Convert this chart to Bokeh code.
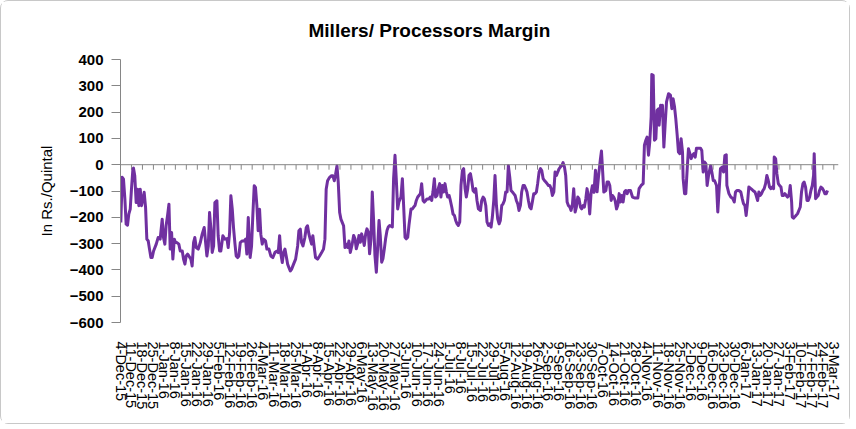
import pandas as pd
from bokeh.plotting import figure
from bokeh.models import Range1d, FixedTicker, Span
from bokeh.embed import file_html
from bokeh.resources import INLINE

# ---------------- data ----------------
start_date = "2015-12-04"
end_date = "2017-03-03"

# days since 4-Dec-15
day_offset = [
    0.2, 1.1, 1.9, 2.8, 3.6, 4.5, 5.3, 6.2, 7.0, 7.9, 8.3, 9.1, 10.0, 10.9, 11.7, 12.6, 13.4, 14.3, 15.1, 16.0,
    16.8, 17.7, 18.5, 19.4, 20.2, 21.1, 22.8, 24.0, 25.3, 26.6, 27.4, 28.3, 29.1, 30.0, 30.9, 31.7, 32.6, 33.4,
    34.3, 35.1, 36.0, 37.2, 38.1, 39.4, 40.2, 41.1, 41.9, 42.8, 43.6, 44.9, 45.7, 46.6, 47.4, 48.3, 49.6, 50.9,
    52.1, 53.4, 54.3, 55.1, 56.0, 56.8, 57.7, 58.5, 59.4, 60.2, 61.5, 62.3, 63.2, 64.0, 65.3, 66.6, 67.9, 68.7,
    69.6, 70.4, 71.3,
    72.1, 73.0, 73.8, 74.7, 75.5, 76.4, 77.6, 78.9, 79.8, 80.6, 81.5, 82.7, 83.6, 84.4, 85.3, 86.1, 87.0, 87.8,
    88.7, 89.5, 90.4, 91.2, 92.5, 93.4, 94.7, 95.9, 97.2, 98.5, 99.8, 100.6, 101.5, 102.3, 103.2, 104.0, 104.9,
    105.7, 106.6, 107.4, 108.3, 109.1, 110.4, 111.7, 113.0, 113.8, 114.7, 115.5, 116.4, 117.6, 118.5, 119.3,
    120.2, 121.0, 121.9, 122.7, 123.6, 124.4, 125.7, 127.0, 128.3, 129.5, 130.4, 131.2, 132.1, 133.4, 134.6,
    135.5, 136.4, 137.2, 138.1, 138.9, 139.8, 140.6, 141.5, 142.3, 143.2, 144.0, 144.9, 145.7, 146.6, 147.8,
    148.7, 149.6, 150.4, 151.3, 152.1, 153.0, 153.8, 154.7, 155.5, 156.4, 157.2, 158.1, 158.9, 159.8, 160.6,
    161.5, 162.3, 163.2, 164.0, 164.9, 165.7, 166.6, 167.4, 168.3, 169.1, 170.0, 170.8, 171.7, 173.4, 174.2,
    175.1, 175.9, 176.8, 177.6, 178.9, 179.8, 180.6, 181.5, 182.3, 183.2, 184.0, 185.3, 186.2, 187.0, 187.9,
    188.7, 189.6, 190.4, 191.3, 192.1, 193.0, 193.8, 194.7, 195.5, 196.8, 197.6, 198.5, 199.3, 200.2, 201.0,
    201.9, 202.7, 203.6, 204.4, 205.3, 206.1, 207.0, 207.9, 208.7, 209.6, 210.4, 211.3, 212.1, 213.0, 213.8,
    214.7, 215.5, 216.4, 217.2, 218.1, 218.9, 219.8, 220.6, 221.5, 222.3, 223.2, 224.0, 224.9,
    225.7, 226.6, 227.4, 228.3, 229.6, 230.4, 231.3, 232.1, 233.0, 233.8, 234.7, 235.5, 236.4, 237.2, 238.1,
    238.9, 239.8, 240.6, 241.5, 242.3, 243.2, 244.0, 244.9, 245.7, 246.6, 247.4, 248.3, 249.1, 250.0, 250.8,
    251.7, 252.5, 253.4, 254.2, 255.1, 255.9, 256.8, 257.6, 258.5, 259.3, 260.2, 261.0, 261.9, 262.7, 263.6,
    264.4, 265.3, 266.1, 267.0, 267.9, 268.7, 269.6, 270.4, 271.3, 272.1, 273.0, 273.8, 274.7, 275.5, 276.4,
    277.2, 278.1, 278.9, 279.8, 280.6, 281.5, 282.3, 283.2, 284.0, 284.9, 285.7, 286.6, 287.4, 288.3, 289.1,
    290.0, 290.8, 291.7, 292.5, 293.4, 294.2, 295.1, 295.9, 296.8, 297.6, 298.5, 299.3,
    300.2, 301.0, 302.0, 303.0, 304.0, 305.0, 306.1, 306.8, 307.6, 308.3,
    309.6, 310.4, 311.3, 312.1, 313.0, 313.8, 314.7, 315.5, 316.4, 317.2, 318.1, 318.9, 319.8, 320.6, 321.5,
    322.3, 323.2, 324.0, 325.3, 326.6, 328.3, 330.0, 330.8, 332.1, 333.4, 334.2, 335.1, 335.9, 336.8, 337.6,
    338.5, 338.9, 339.8, 340.6, 341.5, 342.3, 343.2, 343.6, 344.5, 345.3, 345.7, 346.6, 347.4, 348.3, 349.6,
    350.8, 351.7, 352.5, 353.4, 354.2, 355.1, 355.9, 356.8, 357.6, 358.5, 358.9, 359.8, 360.6, 361.5, 362.3,
    363.2, 364.0, 364.9, 365.7, 366.6, 367.4, 368.7, 370.0, 370.8, 371.7, 372.6, 373.4, 374.2, 375.1, 376.4,
    377.2, 378.1, 378.9, 380.2, 381.0,
    382.7, 383.8, 384.7, 385.5, 386.4, 386.8, 388.1, 389.3, 390.6, 391.5, 392.3, 393.2, 394.4, 395.7, 396.6,
    397.4, 398.3, 399.1, 400.0, 400.8, 402.1, 403.4, 404.7, 405.5, 406.4, 407.2, 408.1, 408.9, 409.8, 410.6,
    411.5, 412.3, 413.2, 414.0, 414.9, 415.7, 416.6, 417.0, 417.9, 418.7, 419.6, 420.4, 421.3, 422.1, 423.0,
    423.8, 424.7, 425.5, 426.4, 427.2, 428.1, 428.5, 429.3, 430.6, 431.9, 432.7, 433.6, 434.4, 435.3, 436.1,
    437.0, 437.9, 438.7, 439.6, 440.4, 441.3, 442.1, 442.5, 443.4, 444.2, 445.1, 445.9, 446.8, 447.6, 448.5,
    449.3, 450.2, 451.0,
]

# Rs./Quintal
margin = [
    -220, -48, -55, -131, -226, -230, -188, -169, -93, -17, -13, -42, -144, -93, -156, -93, -156, -131, -105, -163,
    -283, -290, -321, -353, -353, -328, -302, -277, -283, -207, -277, -302, -232, -194, -150, -321, -258, -359,
    -283, -296, -296, -302, -328, -328, -359, -378, -347, -340, -347, -359, -385, -296, -277, -315, -321, -296,
    -264, -239, -296, -347, -309, -182, -245, -334, -309, -144, -137, -270, -328, -328, -270, -283, -281, -315,
    -258, -118, -169,
    -240, -300, -347, -353, -347, -296, -290, -290, -283, -340, -201, -353, -309, -194, -80, -86, -156, -251,
    -169, -264, -302, -283, -290, -321, -321, -347, -353, -334, -328, -334, -270, -340, -372, -334, -321,
    -347, -378, -391, -404, -398, -378, -359, -309, -251, -245, -296, -309, -277, -239, -232,
    -264, -283, -302, -270, -315, -353, -359, -347, -334, -321, -283, -93, -61, -48, -42,
    -42, -61, -36, -4, -67, -182, -207, -220, -232, -315, -302, -315, -290, -334, -302,
    -269, -282, -320, -300, -269, -295, -263, -282, -307, -263, -244, -256, -339, -282, -104,
    -218, -345, -409, -320, -212, -269, -371, -358, -320, -282, -250, -237, -231, -237, -53,
    36, -53, -168, -142, -123, -53, -155, -276, -282, -276, -231, -168, -168, -161, -155,
    -136, -123, -117, -110, -72, -136, -142, -136, -130, -130, -123, -136, -104, -53, -123,
    -117, -91, -72, -123, -79, -104, -72, -104, -123, -117, -136, -161, -187, -193, -212,
    -225, -231, -218, -79, -22, -15, -91, -123, -91, -41, -34, -60, -98,
    -104, -91, -136, -168, -174, -136, -123, -130, -155, -218, -231, -225, -237, -199, -136,
    -41, -155, -206, -225, -212, -155, -149, -136, -104, -104, -3, -47, -98, -104, -110,
    -117, -136, -149, -174, -155, -104, -79, -79, -91, -104, -136, -161, -168, -142, -110,
    -110, -104, -72, -28, -15, -22, -53, -60, -66, -72, -79, -79, -91, -117, -104,
    -28, -41, -28, -15, -9, -3, 8, -9, -41, -142, -155, -161, -174, -149, -91,
    -180, -161, -123, -130, -161, -168, -155, -161, -130, -91, -123, -187,
    -105, -80, -105, -21, -103, -40, 20, 52, -30, -104,
    -98, -66, -66, -79, -136, -117, -124, -136, -168, -155, -110, -142, -117, -142, -104,
    -98, -110, -98, -98, -123, -127, -127, -91, -79, -72, 74, 93, 105, 36, 86,
    182, 343, 340, 93, 99, 207, 212, 150, 226, 188, 226, 67, 150, 239, 270,
    264, 213, 251, 220, 175, 112, 48, 42, 99, 48, -53, -110, -110, -15, 61,
    42, 23, 36, 42, 29, 63, 63, 63, 54, -28, 10, 4, -79, -41, -3,
    -28, -60, -60, -79, -180,
    -15, -9, -28, 35, 38, -79, -110, -123, -129, -142, -104, -98, -98, -104, -129,
    -148, -155, -193, -142, -85, -91, -98, -104, -117, -136, -104, -117, -110, -98, -91,
    -72, -41, -60, -85, -91, -85, -91, 29, 23, -34, -72, -79, -85, -117, -117,
    -110, -117, -123, -117, -79, -142, -199, -203, -195, -186, -174, -161, -104, -72, -66,
    -85, -136, -136, -123, -98, -79, -41, 42, -129, -123, -117, -98, -85, -89, -98,
    -110, -110, -98,
]

y_ticks = [-600, -500, -400, -300, -200, -100, 0, 100, 200, 300, 400]

# weekly category labels
start = pd.Timestamp(start_date)
tick_dates = pd.date_range(start_date, end_date, freq="7D")
tick_days = [int((d - start).days) for d in tick_dates]
tick_labels = [f"{d.day}-{d.strftime('%b-%y')}" for d in tick_dates]

FONT = "Liberation Sans"
GREY = "#868686"

p = figure(
    frame_width=718, frame_height=263,
    x_range=Range1d(0, 458), y_range=Range1d(-600, 400),
    output_backend="svg", toolbar_location=None,
    title="Millers/ Processors Margin",
    min_border_left=119, min_border_right=11, min_border_top=58, min_border_bottom=101,
)
p.outline_line_color = None
p.grid.grid_line_color = None
p.background_fill_color = "white"
p.border_fill_color = "white"

p.title.align = "left"
p.title.offset = 188
p.title.vertical_align = "top"
p.title.standoff = 34
p.title.text_font = FONT
p.title.text_font_size = "19px"
p.title.text_font_style = "bold"
p.title.text_color = "black"

# y axis
ya = p.yaxis[0]
ya.ticker = FixedTicker(ticks=y_ticks)
ya.axis_line_color = GREY
ya.major_tick_line_color = GREY
ya.major_tick_out = 9
ya.major_tick_in = 0
ya.minor_tick_line_color = None
ya.major_label_text_font = FONT
ya.major_label_text_font_size = "15px"
ya.major_label_text_font_style = "bold"
ya.major_label_text_color = "black"
ya.major_label_standoff = 8
ya.axis_label = "In Rs./Quintal"
ya.axis_label_text_font = FONT
ya.axis_label_text_font_size = "15px"
ya.axis_label_text_font_style = "normal"
ya.axis_label_text_color = "black"
ya.axis_label_standoff = 12

# x axis: labels only at the bottom
xa = p.xaxis[0]
xa.ticker = FixedTicker(ticks=tick_days)
xa.major_label_overrides = {t: lab for t, lab in zip(tick_days, tick_labels)}
xa.major_label_orientation = "vertical"
xa.axis_line_color = None
xa.major_tick_line_color = None
xa.minor_tick_line_color = None
xa.major_tick_out = 0
xa.major_tick_in = 0
xa.major_label_standoff = 19
xa.major_label_text_font = FONT
xa.major_label_text_font_size = "14.5px"
xa.major_label_text_color = "black"

# horizontal axis line at zero with its tick marks
p.add_layout(Span(location=0, dimension="width", line_color=GREY, line_width=1))
p.segment(x0=tick_days, y0=[0] * len(tick_days), x1=tick_days, y1=[-19] * len(tick_days),
          line_color=GREY, line_width=1)

p.line(day_offset, margin, line_color="#7030A0", line_width=3, line_join="round")

p.styles = {"border": "1px solid #c8c8c8", "border-radius": "8px"}

open("out.html", "w").write(file_html(p, INLINE))
